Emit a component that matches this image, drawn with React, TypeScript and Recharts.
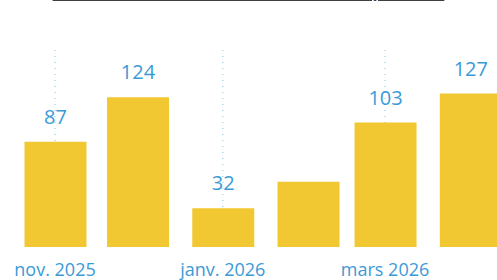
import React from 'react'
import { BarChart, Bar, XAxis, YAxis, CartesianGrid, LabelList } from 'recharts'

// months as first-of-month dates, x axis is a real time axis (feb is narrower)
const months = ['2025-11-01', '2025-12-01', '2026-01-01', '2026-02-01', '2026-03-01', '2026-04-01']
const counts = [87, 124, 32, 54, 103, 127]
const showValue = [true, true, true, false, true, true]

const tickDates = ['2025-11-01', '2026-01-01', '2026-03-01']
const tickLabels = ['nov. 2025', 'janv. 2026', 'mars 2026']

const title = 'Nombre de demandes de construction par mois'

const toTs = (d: string) => Date.parse(d + 'T00:00:00Z')

const data = months.map((m, i) => ({
  ts: toTs(m),
  count: counts[i],
  label: showValue[i] ? String(counts[i]) : '',
}))

const ticks = tickDates.map(toTs)
const labelFor = new Map(ticks.map((t, i) => [t, tickLabels[i]]))

const BLUE = '#3b9ad6'
const YELLOW = '#f2c832'
const FONT = '"Open Sans", sans-serif'

const XTick = (props: any) => {
  const { x, payload } = props
  return (
    <text x={x} y={276} textAnchor="middle" fill={BLUE} fontSize={18} fontFamily={FONT}>
      {labelFor.get(payload.value) ?? ''}
    </text>
  )
}

const ValueLabel = (props: any) => {
  const { x, y, width, value } = props
  if (!value) return null
  return (
    <text x={x + width / 2} y={y - 18} textAnchor="middle" fill={BLUE} fontSize={20} fontFamily={FONT}>
      {value}
    </text>
  )
}

export default function App() {
  return (
    <div
      style={{
        position: 'fixed',
        top: 0,
        left: 0,
        width: 497,
        height: 280,
        overflow: 'hidden',
        background: '#fff',
      }}
    >
      {/* title is mostly cut off at the top of the picture */}
      <div
        style={{
          position: 'absolute',
          top: -19,
          left: 0,
          width: 497,
          textAlign: 'center',
          fontFamily: FONT,
          fontWeight: 700,
          fontSize: 16.5,
          lineHeight: '20px',
          color: '#3f3f3f',
          textDecoration: 'underline',
          textDecorationThickness: 2,
          textUnderlineOffset: 2,
          whiteSpace: 'nowrap',
        }}
      >
        {title}
      </div>
      <BarChart
        width={497}
        height={280}
        data={data}
        margin={{ top: 50, right: 0, left: 0, bottom: 0 }}
      >
        {/* dotted gridlines only at the labelled months (no edge lines) */}
        <CartesianGrid
          horizontal={false}
          vertical
          syncWithTicks
          stroke="#a9d9ec"
          strokeDasharray="1 5"
          strokeWidth={1.5}
        />
        <XAxis
          dataKey="ts"
          type="number"
          domain={[Date.UTC(2025, 9, 12), Date.UTC(2026, 3, 10, 17)]}
          allowDataOverflow
          ticks={ticks}
          tick={<XTick />}
          tickLine={false}
          axisLine={false}
          height={33}
          interval={0}
        />
        <YAxis hide domain={[0, 163]} />
        <Bar dataKey="count" fill={YELLOW} barSize={62} isAnimationActive={false}>
          <LabelList dataKey="label" content={<ValueLabel />} />
        </Bar>
      </BarChart>
    </div>
  )
}
